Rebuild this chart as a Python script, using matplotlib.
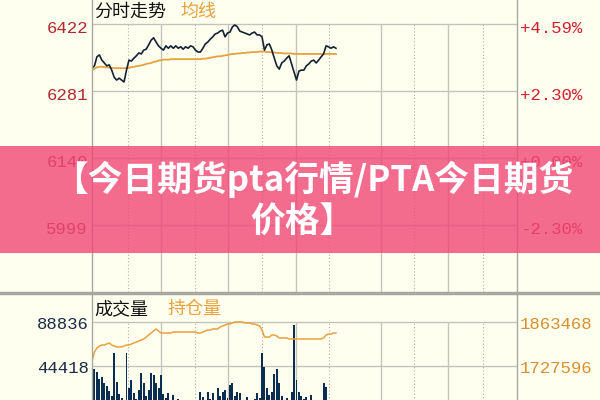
import numpy as np
import matplotlib.pyplot as plt
from matplotlib.lines import Line2D
from matplotlib.patches import Rectangle

# 分时数据，每2分钟一个点
price = [6329, 6334, 6353, 6357, 6346, 6340, 6334, 6336, 6325, 6310,
         6304, 6308, 6304, 6300, 6325, 6346, 6344, 6350, 6355, 6361,
         6359, 6367, 6369, 6378, 6388, 6393, 6384, 6376, 6371, 6367,
         6376, 6371, 6376, 6371, 6376, 6371, 6374, 6369, 6374, 6371,
         6376, 6374, 6367, 6363, 6363, 6371, 6380, 6384, 6390, 6395,
         6401, 6403, 6407, 6409, 6395, 6403, 6405, 6416, 6420, 6416,
         6407, 6405, 6403, 6401, 6399, 6403, 6405, 6399, 6399, 6395,
         6367, 6378, 6380, 6367, 6350, 6334, 6327, 6340, 6344, 6350,
         6355, 6338, 6321, 6304, 6323, 6325, 6325, 6334, 6338, 6344,
         6346, 6340, 6346, 6353, 6359, 6376, 6374, 6371, 6374, 6371]

avg_price = [6325, 6328, 6331, 6332, 6332, 6331, 6331, 6330, 6330, 6329,
             6329, 6329, 6329, 6329, 6329, 6330, 6331, 6332, 6333, 6334,
             6335, 6336, 6338, 6339, 6340, 6342, 6343, 6345, 6346, 6347,
             6347, 6347, 6348, 6348, 6348, 6348, 6348, 6348, 6348, 6348,
             6348, 6348, 6348, 6348, 6348, 6349, 6349, 6350, 6351, 6352,
             6353, 6354, 6354, 6355, 6356, 6357, 6358, 6359, 6359, 6360,
             6360, 6361, 6361, 6362, 6362, 6363, 6363, 6363, 6364, 6364,
             6364, 6363, 6363, 6362, 6362, 6361, 6361, 6361, 6360, 6360,
             6360, 6360, 6359, 6359, 6359, 6359, 6359, 6359, 6359, 6359,
             6359, 6359, 6359, 6359, 6359, 6359, 6359, 6359, 6359, 6359]

volume = [63600, 41000, 38000, 31000, 33000, 27000, 24000, 19000, 14000, 57500,
          28000, 16000, 12000, 9000, 57500, 22000, 30000, 17000, 11000, 20000,
          37000, 27000, 14000, 20000, 37000, 35000, 27000, 22000, 35000, 16000,
          12000, 17000, 9000, 15000, 8000, 11000, 7000, 9000, 6000, 8000,
          5000, 9000, 6000, 8000, 18000, 13000, 9000, 18000, 11000, 17000,
          10000, 22000, 14000, 18000, 20000, 12000, 25000, 27000, 14000, 18000,
          17000, 10000, 8000, 13000, 7000, 9000, 11000, 17000, 12000, 57500,
          43000, 22000, 15000, 18000, 36000, 41000, 27000, 14000, 9000, 12000,
          8000, 18000, 85800, 30000, 18000, 14000, 11000, 13000, 9000, 15000,
          8000, 10000, 6000, 9000, 27000, 23000, 8000, 6000, 9000, 5000]

open_interest = [1743000, 1770800, 1783200, 1789400, 1792400, 1792400, 1795500, 1798600, 1792400, 1789400,
                 1786300, 1786300, 1786300, 1789400, 1792400, 1792400, 1795500, 1798600, 1801700, 1804800,
                 1807900, 1811000, 1817100, 1823300, 1829500, 1835700, 1841900, 1835700, 1829500, 1829500,
                 1829500, 1829500, 1829500, 1832600, 1832600, 1832600, 1832600, 1832600, 1832600, 1832600,
                 1832600, 1832600, 1832600, 1829500, 1829500, 1832600, 1835700, 1838800, 1838800, 1841900,
                 1841900, 1841900, 1848000, 1851100, 1854200, 1857300, 1857300, 1860400, 1863500, 1863500,
                 1863500, 1863500, 1860400, 1860400, 1860400, 1857300, 1857300, 1854200, 1851100, 1838800,
                 1817100, 1817100, 1817100, 1823300, 1823300, 1820200, 1814100, 1814100, 1814100, 1814100,
                 1811000, 1811000, 1811000, 1811000, 1811000, 1811000, 1811000, 1811000, 1811000, 1811000,
                 1811000, 1811000, 1811000, 1811000, 1814100, 1823300, 1826400, 1826400, 1829500, 1829500]

price_ticks = [6422, 6281, 6140, 5999]
pct_labels = ['+4.59%', '+2.30%', '+0.00%', '-2.30%']
vol_ticks = [88836, 44418]
oi_ticks = [1863468, 1727596]

session_minutes = 345
step = 2
solid_grid = [56, 110, 166, 235, 289]
dotted_grid = [29, 84, 138, 192, 261, 317]

bg = '#FFFFF0'
grid_c = '#C4C4BA'
border_c = '#A8A8A0'
mono = 'Liberation Mono'
cjk = ['Noto Sans CJK SC', 'DejaVu Sans']


def fx(px):
    return px / 600


def fy(py):
    return 1 - py / 400


t = np.arange(len(price)) * step

fig = plt.figure(figsize=(6, 4), dpi=100, facecolor=bg)

# ---- 上面的分时走势 ----
# 每像素约2.1点，上边留24像素给标题
ppp = (price_ticks[0] - price_ticks[1]) / 67
ax = fig.add_axes([fx(92), fy(292), fx(517) - fx(92), (292 - 0) / 400])
ax.set_facecolor(bg)
ax.set_xlim(0, session_minutes)
ax.set_ylim(price_ticks[0] - 268 * ppp, price_ticks[0] + 24 * ppp)
for s in ax.spines.values():
    s.set_visible(False)
ax.set_xticks([])
ax.set_yticks([])

for p in price_ticks:
    ax.axhline(p, color=grid_c, lw=1, zorder=1)
ax.vlines(solid_grid, ax.get_ylim()[0], price_ticks[0], color=grid_c, lw=1, zorder=1)
ax.vlines(dotted_grid, ax.get_ylim()[0], price_ticks[0], color='#B0B0A8', lw=0.8,
          linestyles=(0, (1, 2)), zorder=1)

ax.plot(t, avg_price, color='#E6A23C', lw=1.3, zorder=3)
ax.plot(t, price, color='#142232', lw=1.2, zorder=4)

for p, lab in zip(price_ticks, pct_labels):
    ax.annotate(str(p), xy=(0, p), xycoords=ax.get_yaxis_transform(),
                xytext=(-3, -3), textcoords='offset points', ha='right', va='center',
                fontsize=12.5, family=mono, color='#B0282E')
    ax.annotate(lab, xy=(1, p), xycoords=ax.get_yaxis_transform(),
                xytext=(2, -3), textcoords='offset points', ha='left', va='center',
                fontsize=12.5, family=mono, color='#D0202E')

ax.text(0.006, 1 - 12 / 292, '分时走势', transform=ax.transAxes, ha='left', va='center',
        fontsize=13, family=cjk, color='#111111')
ax.text(0.208, 1 - 12 / 292, '均线', transform=ax.transAxes, ha='left', va='center',
        fontsize=13, family=cjk, color='#E6A23C')

# ---- 下面的成交量和持仓量 ----
vpp = vol_ticks[1] / 44
bx = fig.add_axes([fx(92), fy(410), fx(517) - fx(92), (410 - 293) / 400])
bx.set_facecolor(bg)
bx.set_xlim(0, session_minutes)
bx.set_ylim(0, 117 * vpp)
for s in bx.spines.values():
    s.set_visible(False)
bx.set_xticks([])
bx.set_yticks([])

for v in vol_ticks:
    bx.axhline(v, color=grid_c, lw=1, zorder=1)
bx.vlines(solid_grid, 0, vol_ticks[0], color=grid_c, lw=1, zorder=1)
bx.vlines(dotted_grid, 0, vol_ticks[0], color='#B0B0A8', lw=0.8,
          linestyles=(0, (1, 2)), zorder=1)

bx.bar(t, volume, width=1.6, color='#0B2D52', zorder=3)

opp = (oi_ticks[0] - oi_ticks[1]) / 44
ox = bx.twinx()
ox.set_xlim(0, session_minutes)
ox.set_ylim(oi_ticks[0] - 88 * opp, oi_ticks[0] + 29 * opp)
for s in ox.spines.values():
    s.set_visible(False)
ox.set_yticks([])
ox.plot(t, open_interest, color='#E9A13B', lw=1.1, zorder=4)

for v in vol_ticks:
    bx.annotate(str(v), xy=(0, v), xycoords=bx.get_yaxis_transform(),
                xytext=(-2, -2), textcoords='offset points', ha='right', va='center',
                fontsize=12.5, family=mono, color='#1C2C48')
for v in oi_ticks:
    ox.annotate(str(v), xy=(1, v), xycoords=ox.get_yaxis_transform(),
                xytext=(2, -2), textcoords='offset points', ha='left', va='center',
                fontsize=12.5, family=mono, color='#D8902E')

bx.text(0.006, 1 - 16 / 117, '成交量', transform=bx.transAxes, ha='left', va='center',
        fontsize=13, family=cjk, color='#111111')
bx.text(0.177, 1 - 16 / 117, '持仓量', transform=bx.transAxes, ha='left', va='center',
        fontsize=13, family=cjk, color='#E9A13B')

# 边框
fig.add_artist(Line2D([fx(92), fx(92)], [0, 1], color=border_c, lw=1))
fig.add_artist(Line2D([fx(517), fx(517)], [0, 1], color=border_c, lw=1))
fig.add_artist(Line2D([0, 1], [fy(293), fy(293)], color=border_c, lw=2.5))

# 粉色标题条
fig.add_artist(Rectangle((0, fy(253)), 1, (253 - 146) / 400, transform=fig.transFigure,
                         facecolor='#F04776', edgecolor='none', alpha=0.8, zorder=10))
fig.text(fx(313), fy(179), '【今日期货pta行情/PTA今日期货', ha='center', va='center',
         fontsize=25, fontweight='bold', family=cjk, color='white', zorder=11)
fig.text(fx(302), fy(222), '价格】', ha='center', va='center',
         fontsize=25, fontweight='bold', family=cjk, color='white', zorder=11)

fig.savefig('out.png', dpi=100, facecolor=bg)
